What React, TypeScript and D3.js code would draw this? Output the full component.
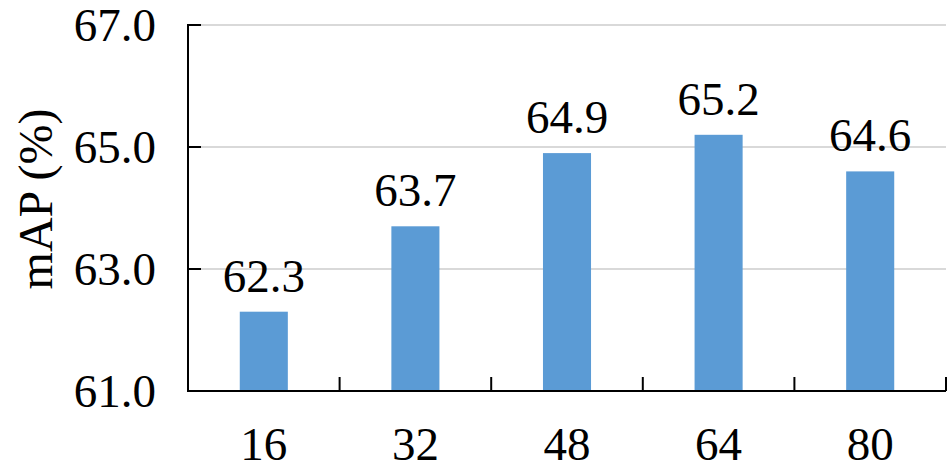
import React from "react";
import * as d3 from "d3";

const categories = ["16", "32", "48", "64", "80"];
const values = [62.3, 63.7, 64.9, 65.2, 64.6];
const yTicks = [61, 63, 65, 67];

const W = 952;
const H = 467;
const M = { left: 188, right: 6, top: 25, bottom: 76 };
const FONT = '"Liberation Serif", "Times New Roman", serif';
const ts = { fontFamily: FONT };

export default function App() {
  const x = d3
    .scaleBand<string>()
    .domain(categories)
    .range([M.left, W - M.right])
    .paddingInner(0)
    .paddingOuter(0);
  const y = d3.scaleLinear().domain([61, 67]).range([H - M.bottom, M.top]);
  const bw = x.bandwidth() * 0.317;
  const y0 = y(61);
  const boundaries = categories.map((c) => (x(c) as number) + x.bandwidth());

  return (
    <svg
      width={W}
      height={H}
      style={{ position: "absolute", left: 0, top: 0, background: "#fff", fontFamily: FONT }}
    >
      {yTicks.slice(1).map((t) => (
        <line
          key={"g" + t}
          x1={M.left}
          x2={W - M.right}
          y1={y(t)}
          y2={y(t)}
          stroke="#d9d9d9"
          strokeWidth={2}
        />
      ))}
      {categories.map((c, i) => (
        <rect
          key={c}
          x={(x(c) as number) + x.bandwidth() / 2 - bw / 2}
          y={y(values[i])}
          width={bw}
          height={y0 - y(values[i])}
          fill="#5b9bd5"
        />
      ))}
      {categories.map((c, i) => (
        <text
          key={"l" + c}
          x={(x(c) as number) + x.bandwidth() / 2}
          y={y(values[i]) - 20}
          textAnchor="middle"
          fontSize={47}
          fill="#000"
          style={ts}
        >
          {values[i].toFixed(1)}
        </text>
      ))}
      <line x1={M.left} x2={M.left} y1={M.top - 1} y2={y0 + 1} stroke="#000" strokeWidth={2} />
      {yTicks.map((t) => (
        <g key={"y" + t}>
          <line x1={M.left} x2={M.left + 13} y1={y(t)} y2={y(t)} stroke="#000" strokeWidth={2} />
          <text
            x={156}
            y={y(t)}
            dy="0.34em"
            textAnchor="end"
            fontSize={47}
            fill="#000"
            style={ts}
          >
            {t.toFixed(1)}
          </text>
        </g>
      ))}
      <line x1={M.left} x2={W - M.right} y1={y0} y2={y0} stroke="#000" strokeWidth={2} />
      {boundaries.map((b, i) => (
        <line key={"t" + i} x1={b} x2={b} y1={y0} y2={y0 - 14} stroke="#000" strokeWidth={2} />
      ))}
      {categories.map((c) => (
        <text
          key={"x" + c}
          x={(x(c) as number) + x.bandwidth() / 2}
          y={460}
          textAnchor="middle"
          fontSize={47}
          fill="#000"
          style={ts}
        >
          {c}
        </text>
      ))}
      <text
        transform={`translate(52, 199) rotate(-90)`}
        textAnchor="middle"
        fontSize={48}
        fill="#000"
        style={ts}
      >
        mAP (%)
      </text>
    </svg>
  );
}
